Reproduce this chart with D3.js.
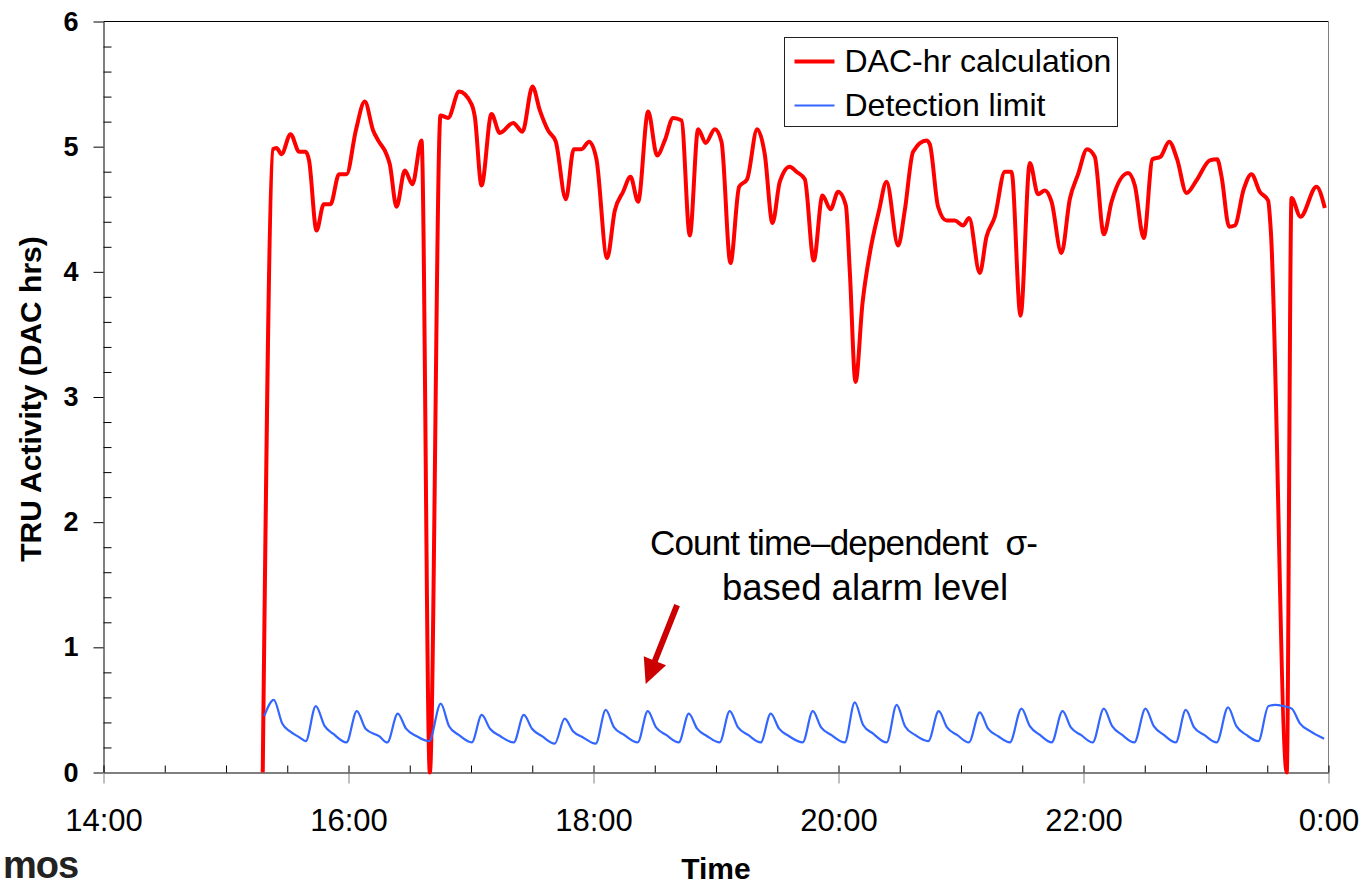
<!DOCTYPE html>
<meta charset="utf-8">
<title>TRU Activity (DAC hrs)</title>
<style>
body {
  margin: 0;
  background: #fff;
}
svg {
  display: block;
  font-family: "Liberation Sans", Arial, Helvetica, sans-serif;
}
.note {
  white-space: pre;
}
</style>
<body>
<script src="https://cdn.jsdelivr.net/npm/d3@7"></script>
<script>
'use strict';

// DAC-hr calculation (red), hours of day vs DAC hrs
const dacHours = [
  15.300, 15.384, 15.412, 15.453, 15.527, 15.597, 15.651, 15.678, 15.739, 15.798,
  15.853, 15.923, 15.984, 16.060, 16.133, 16.201, 16.242, 16.310, 16.337, 16.392,
  16.460, 16.522, 16.596, 16.664, 16.751, 16.813, 16.903, 17.004, 17.031, 17.086,
  17.167, 17.235, 17.344, 17.420, 17.502, 17.562, 17.629, 17.692, 17.774, 17.839,
  17.902, 17.964, 18.024, 18.111, 18.174, 18.242, 18.302, 18.364, 18.446, 18.519,
  18.582, 18.650, 18.718, 18.786, 18.854, 18.916, 18.990, 19.045, 19.118, 19.189,
  19.254, 19.336, 19.398, 19.461, 19.521, 19.602, 19.657, 19.725, 19.798, 19.869,
  19.935, 19.997, 20.060, 20.092, 20.139, 20.196, 20.256, 20.331, 20.392, 20.487,
  20.541, 20.609, 20.718, 20.745, 20.813, 20.882, 20.949, 21.017, 21.066, 21.153,
  21.208, 21.276, 21.358, 21.412, 21.486, 21.562, 21.629, 21.684, 21.739, 21.820,
  21.888, 21.956, 22.029, 22.092, 22.166, 22.229, 22.364, 22.419, 22.492, 22.563,
  22.629, 22.699, 22.764, 22.841, 22.922, 23.031, 23.091, 23.127, 23.189, 23.235,
  23.308, 23.371, 23.439, 23.507, 23.529, 23.659, 23.698, 23.771, 23.902, 23.970
];
const dacValues = [
  0, 4.98, 4.99, 4.94, 5.10, 4.96, 4.96, 4.89, 4.33, 4.54,
  4.54, 4.78, 4.78, 5.13, 5.36, 5.13, 5.05, 4.94, 4.86, 4.52,
  4.81, 4.70, 5.05, 0, 5.25, 5.23, 5.44, 5.34, 5.24, 4.69,
  5.26, 5.11, 5.19, 5.12, 5.48, 5.29, 5.13, 5.04, 4.58, 4.98,
  4.98, 5.04, 4.90, 4.11, 4.49, 4.64, 4.76, 4.56, 5.28, 4.93,
  5.05, 5.23, 5.21, 4.29, 5.14, 5.03, 5.14, 5.04, 4.07, 4.68,
  4.74, 5.14, 4.94, 4.39, 4.72, 4.84, 4.80, 4.74, 4.09, 4.61,
  4.50, 4.64, 4.53, 4.01, 3.12, 3.75, 4.15, 4.49, 4.72, 4.21,
  4.49, 4.96, 5.05, 5.02, 4.52, 4.41, 4.41, 4.37, 4.43, 3.99,
  4.28, 4.44, 4.80, 4.80, 3.65, 4.87, 4.62, 4.65, 4.56, 4.15,
  4.58, 4.78, 4.98, 4.92, 4.30, 4.56, 4.79, 4.69, 4.27, 4.90,
  4.92, 5.04, 4.90, 4.63, 4.73, 4.89, 4.90, 4.76, 4.36, 4.37,
  4.66, 4.78, 4.64, 4.57, 4.33, 0, 4.59, 4.44, 4.68, 4.51
];

// detection limit (blue)
const limitHours = [
  15.312, 15.390, 15.460, 15.520, 15.601, 15.651,
  15.733, 15.806, 15.874, 15.983,
  16.068, 16.139, 16.250, 16.317,
  16.402, 16.470, 16.557, 16.658,
  16.753, 16.821, 16.900, 17.006,
  17.088, 17.155, 17.240, 17.349,
  17.431, 17.498, 17.580, 17.683,
  17.765, 17.833, 17.915, 18.018,
  18.100, 18.168, 18.250, 18.361,
  18.443, 18.511, 18.593, 18.696,
  18.778, 18.846, 18.928, 19.030,
  19.112, 19.180, 19.262, 19.365,
  19.447, 19.515, 19.597, 19.708,
  19.790, 19.858, 19.940, 20.051,
  20.133, 20.201, 20.283, 20.393,
  20.475, 20.543, 20.625, 20.733,
  20.818, 20.886, 20.968, 21.064,
  21.153, 21.221, 21.303, 21.399,
  21.494, 21.562, 21.644, 21.740,
  21.829, 21.897, 21.979, 22.075,
  22.166, 22.234, 22.316, 22.415,
  22.506, 22.574, 22.656, 22.753,
  22.835, 22.903, 22.985, 23.087,
  23.180, 23.248, 23.330, 23.427,
  23.509, 23.564, 23.632, 23.700, 23.768, 23.850, 23.964
];
const limitValues = [
  0.45, 0.58, 0.39, 0.33, 0.28, 0.25,
  0.53, 0.37, 0.31, 0.24,
  0.49, 0.35, 0.29, 0.24,
  0.47, 0.35, 0.29, 0.25,
  0.55, 0.37, 0.30, 0.24,
  0.46, 0.35, 0.29, 0.24,
  0.46, 0.35, 0.29, 0.23,
  0.43, 0.33, 0.28, 0.23,
  0.50, 0.36, 0.30, 0.24,
  0.49, 0.36, 0.30, 0.24,
  0.47, 0.35, 0.29, 0.24,
  0.49, 0.36, 0.30, 0.24,
  0.47, 0.35, 0.29, 0.24,
  0.49, 0.36, 0.30, 0.24,
  0.56, 0.38, 0.31, 0.24,
  0.54, 0.37, 0.30, 0.25,
  0.49, 0.36, 0.30, 0.24,
  0.48, 0.35, 0.29, 0.24,
  0.51, 0.37, 0.30, 0.24,
  0.49, 0.36, 0.30, 0.24,
  0.51, 0.37, 0.30, 0.24,
  0.51, 0.37, 0.30, 0.24,
  0.50, 0.36, 0.30, 0.24,
  0.52, 0.37, 0.30, 0.25,
  0.53, 0.54, 0.53, 0.51, 0.39, 0.33, 0.27
];

const xMajorTicks = [14, 16, 18, 20, 22, 24];
const xTickLabels = ["14:00", "16:00", "18:00", "20:00", "22:00", "0:00"];
const xMinorTicks = d3.range(14, 24.01, 0.5);
const yMajorTicks = [0, 1, 2, 3, 4, 5, 6];
const yMinorTicks = d3.range(0.2, 6, 0.2).filter(v => Math.abs(v - Math.round(v)) > 0.01);

const seriesNames = ["DAC-hr calculation", "Detection limit"];
const noteLines = ["Count time\u2013dependent  \u03c3-", "based alarm level"];

const width = 1366, height = 884;

const x = d3.scaleLinear().domain([14, 24]).range([103.5, 1328.5]);
const y = d3.scaleLinear().domain([0, 6]).range([772.5, 21.5]);

const svg = d3.select("body").append("svg")
    .attr("width", width)
    .attr("height", height);

// frame: top black, right grey
svg.append("line")
    .attr("x1", x(14)).attr("x2", x(24))
    .attr("y1", y(6)).attr("y2", y(6))
    .attr("stroke", "#000");
svg.append("line")
    .attr("x1", x(24)).attr("x2", x(24))
    .attr("y1", y(6)).attr("y2", y(0))
    .attr("stroke", "#808080");

// y minor ticks (inside)
svg.append("g")
    .attr("transform", `translate(${x(14)},0)`)
    .call(d3.axisRight(y).tickValues(yMinorTicks).tickSize(8).tickFormat(""))
    .call(g => g.select(".domain").remove());

// y major ticks + labels
svg.append("g")
    .attr("transform", `translate(${x(14)},0)`)
    .call(d3.axisLeft(y).tickValues(yMajorTicks).tickSize(10).tickSizeOuter(0)
      .tickPadding(15).tickFormat(d3.format("d")))
    .call(g => g.attr("font-family", null).attr("font-size", null))
    .call(g => g.selectAll("text")
      .attr("font-size", 27).attr("font-weight", "bold").attr("fill", "#000"));

// x minor ticks (inside)
svg.append("g")
    .attr("transform", `translate(0,${y(0)})`)
    .call(d3.axisTop(x).tickValues(xMinorTicks).tickSize(7).tickFormat(""))
    .call(g => g.select(".domain").remove());

// x major ticks + labels
svg.append("g")
    .attr("transform", `translate(0,${y(0)})`)
    .call(d3.axisBottom(x).tickValues(xMajorTicks).tickSize(11).tickSizeOuter(0)
      .tickPadding(25).tickFormat((d, i) => xTickLabels[i]))
    .call(g => g.attr("font-family", null).attr("font-size", null))
    .call(g => g.selectAll(".tick line").attr("stroke", "#808080"))
    .call(g => g.selectAll("text").attr("font-size", 31).attr("fill", "#000"));

// axis titles
svg.append("text")
    .attr("transform", `translate(41,${(y(0) + y(6)) / 2 + 2}) rotate(-90)`)
    .attr("text-anchor", "middle")
    .attr("font-size", 30)
    .attr("font-weight", "bold")
    .text("TRU Activity (DAC hrs)");

svg.append("text")
    .attr("x", 716)
    .attr("y", 879)
    .attr("text-anchor", "middle")
    .attr("font-size", 30)
    .attr("font-weight", "bold")
    .text("Time");

// lines
const dacLine = d3.line()
    .x((d, i) => x(dacHours[i]))
    .y(d => y(d))
    .curve(d3.curveMonotoneX);

const limitLine = d3.line()
    .x((d, i) => x(limitHours[i]))
    .y(d => y(d))
    .curve(d3.curveMonotoneX);

svg.append("path")
    .datum(dacValues)
    .attr("d", dacLine)
    .attr("fill", "none")
    .attr("stroke", "#ff0000")
    .attr("stroke-width", 4)
    .attr("stroke-linejoin", "round");

svg.append("path")
    .datum(limitValues)
    .attr("d", limitLine)
    .attr("fill", "none")
    .attr("stroke", "#3366ff")
    .attr("stroke-width", 2.2)
    .attr("stroke-linejoin", "round");

// annotation
const noteStart = [18.461, 19.049];
const noteBase = [1.738, 1.382];
const noteSize = [35, 36.5];
const noteLength = [388, null];
svg.selectAll(".note")
    .data(noteLines)
  .enter().append("text")
    .attr("class", "note")
    .attr("x", (d, i) => x(noteStart[i]))
    .attr("y", (d, i) => y(noteBase[i]))
    .attr("font-size", (d, i) => noteSize[i])
    .attr("textLength", (d, i) => noteLength[i])
    .attr("lengthAdjust", "spacing")
    .text(d => d);

// arrow
const arrowFrom = [18.682, 1.338], arrowTo = [18.426, 0.707];
const ax0 = x(arrowFrom[0]), ay0 = y(arrowFrom[1]);
const ax1 = x(arrowTo[0]), ay1 = y(arrowTo[1]);
const len = Math.hypot(ax1 - ax0, ay1 - ay0);
const ux = (ax1 - ax0) / len, uy = (ay1 - ay0) / len;
const headLen = 25, headHalf = 12, shaftHalf = 3;
const bx = ax1 - ux * headLen, by = ay1 - uy * headLen;
const arrowPts = [
  [ax0 - uy * shaftHalf, ay0 + ux * shaftHalf],
  [bx - uy * shaftHalf, by + ux * shaftHalf],
  [bx - uy * headHalf, by + ux * headHalf],
  [ax1, ay1],
  [bx + uy * headHalf, by - ux * headHalf],
  [bx + uy * shaftHalf, by - ux * shaftHalf],
  [ax0 + uy * shaftHalf, ay0 - ux * shaftHalf]
];
svg.append("path")
    .attr("d", d3.line()(arrowPts) + "Z")
    .attr("fill", "#cc0000");

// legend
const legend = svg.append("g").attr("transform", "translate(784.5,37.5)");
legend.append("rect")
    .attr("width", 333)
    .attr("height", 89)
    .attr("fill", "#fff")
    .attr("stroke", "#222");
const legendColors = ["#ff0000", "#3366ff"];
const legendWidths = [4, 2.2];
const item = legend.selectAll(".item")
    .data(seriesNames)
  .enter().append("g")
    .attr("class", "item")
    .attr("transform", (d, i) => `translate(0,${24 + i * 44})`);
item.append("line")
    .attr("x1", 10).attr("x2", 50)
    .attr("stroke", (d, i) => legendColors[i])
    .attr("stroke-width", (d, i) => legendWidths[i]);
item.append("text")
    .attr("x", 60)
    .attr("y", 10)
    .attr("font-size", 32)
    .text(d => d);

// corner logo fragment
svg.append("text")
    .attr("x", 3)
    .attr("y", 878)
    .attr("font-size", 38)
    .attr("font-weight", "bold")
    .attr("letter-spacing", -1)
    .attr("fill", "#222")
    .text("mos");
</script>
</body>
